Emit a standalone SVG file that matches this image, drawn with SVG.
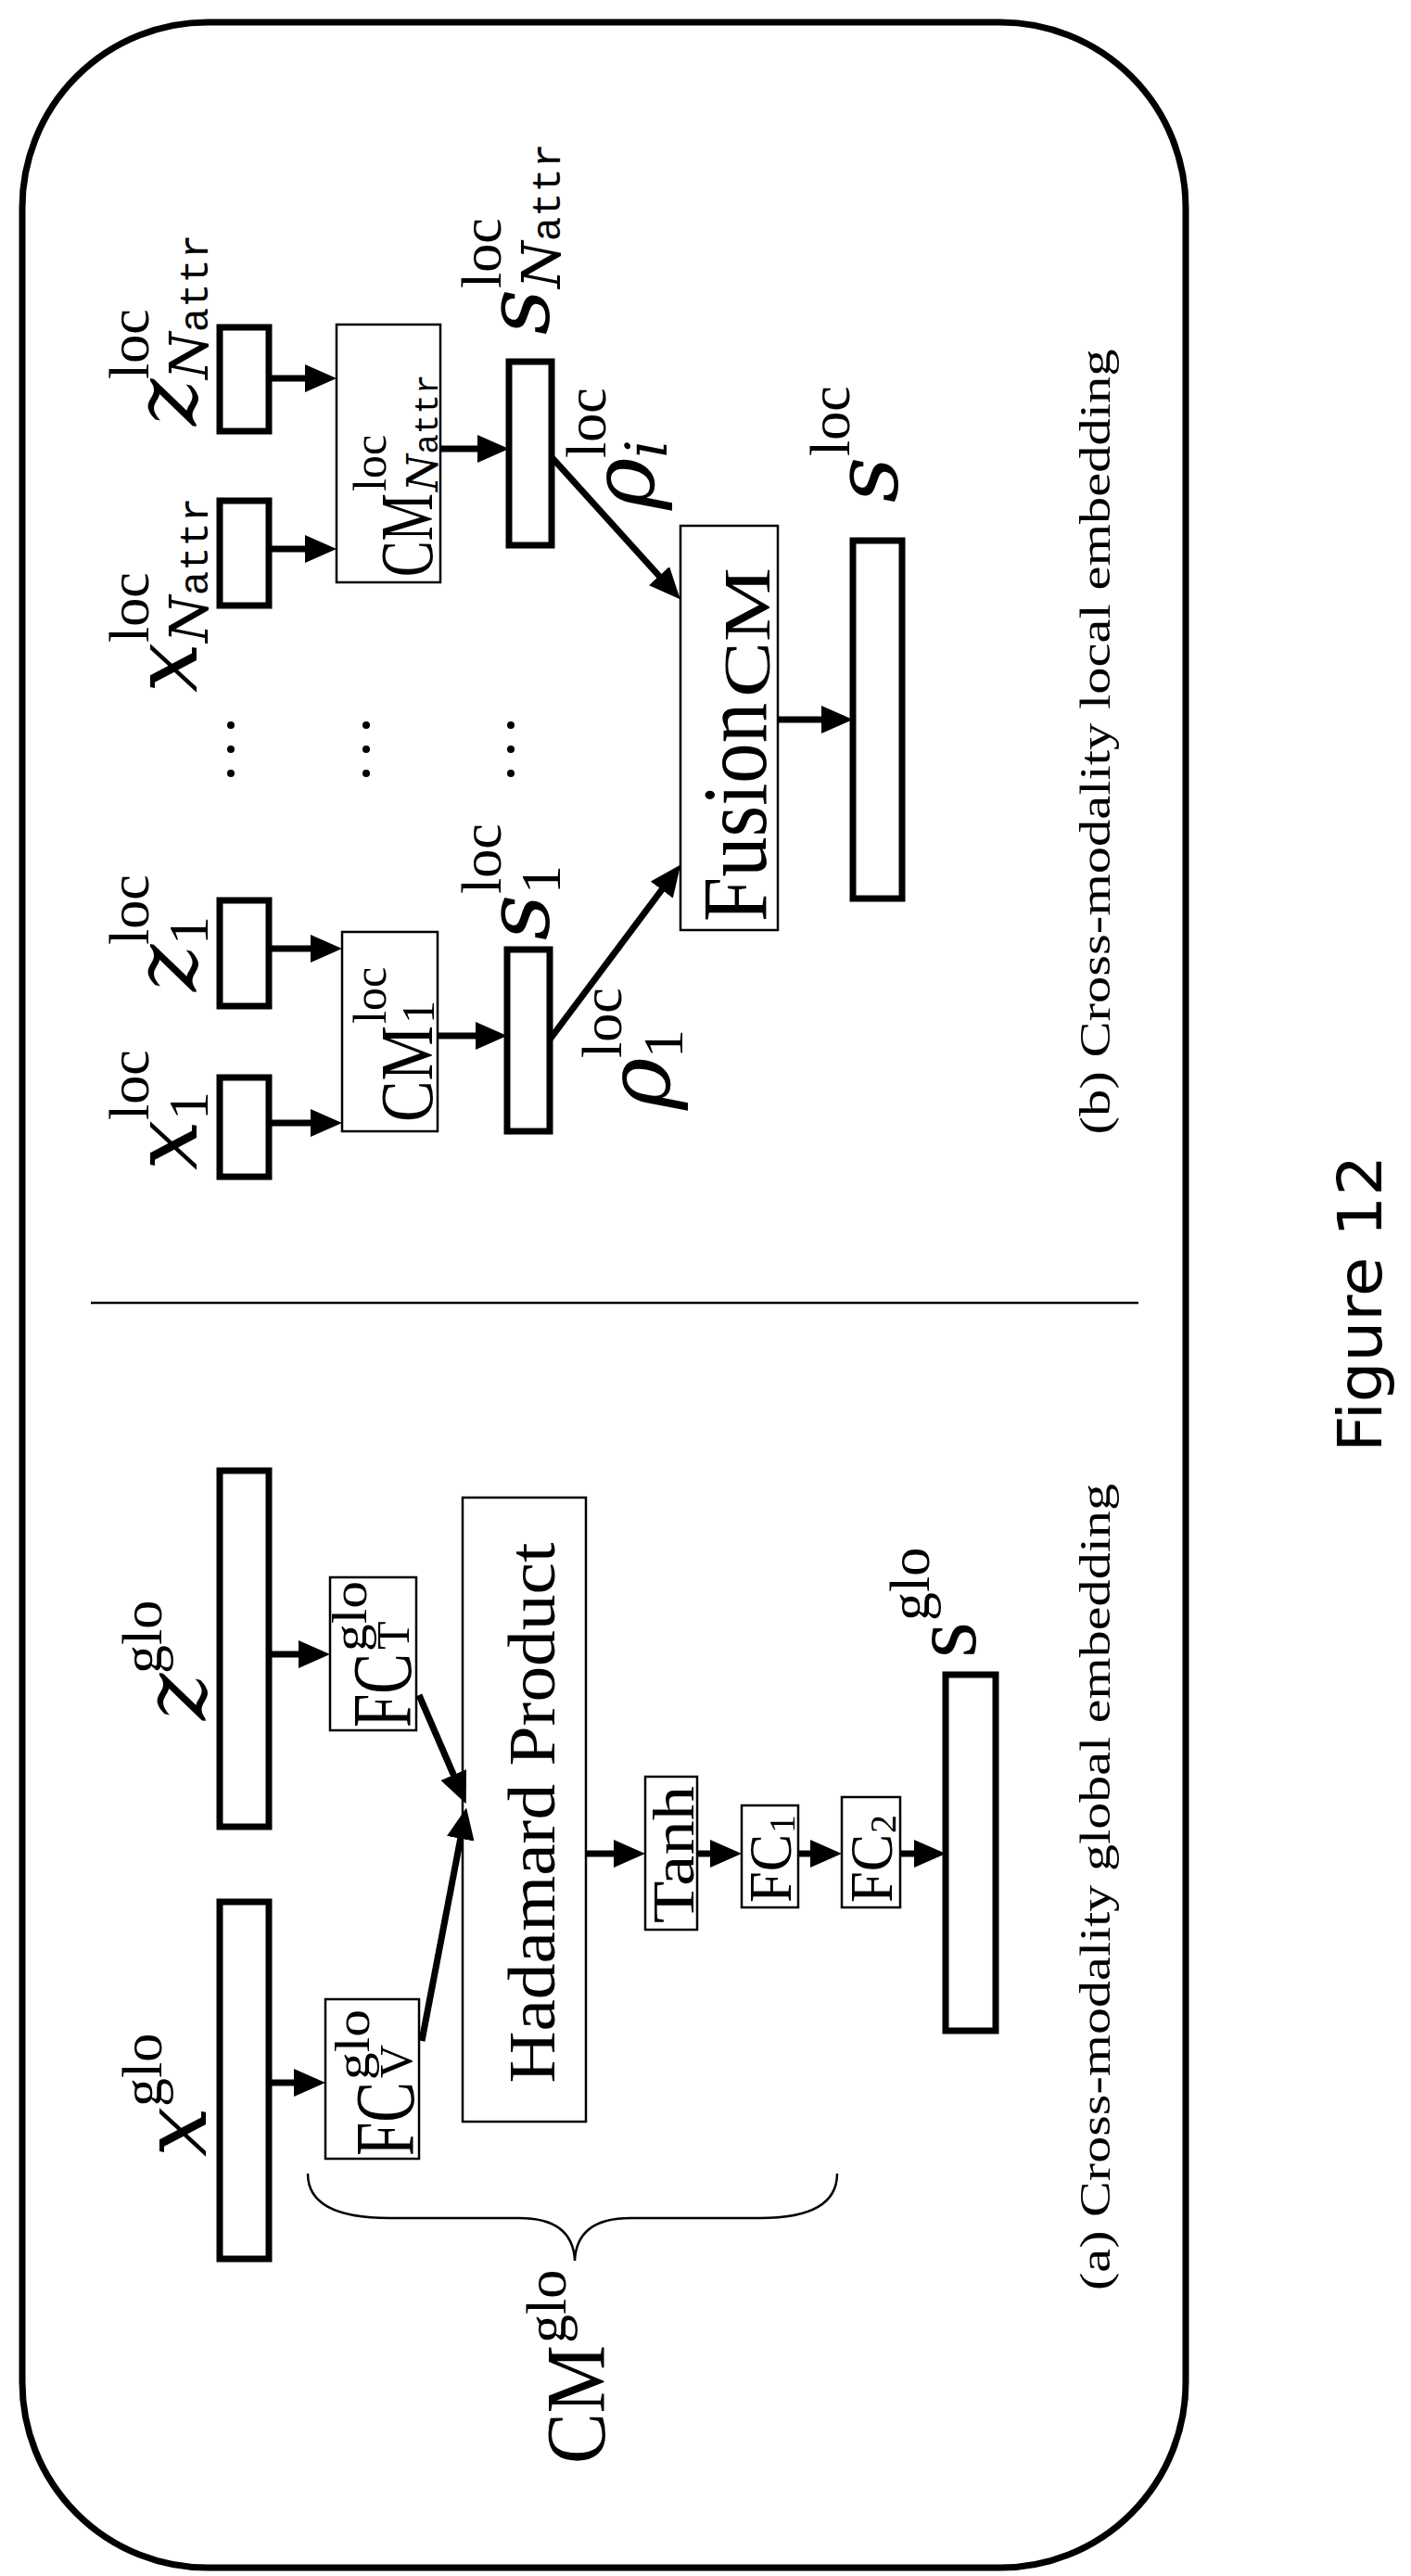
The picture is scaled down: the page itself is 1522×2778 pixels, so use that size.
<svg xmlns="http://www.w3.org/2000/svg" width="1522" height="2778" viewBox="0 0 1522 2778">
<style>
.bar{fill:#fff;stroke:#000;stroke-width:7}
.box{fill:#fff;stroke:#000;stroke-width:2.5}
.ar{stroke:#000;stroke-width:7;fill:none;marker-end:url(#ah)}
text{font-family:"Liberation Serif",serif;fill:#000}
.mi{font-family:"DejaVu Serif","Liberation Serif",serif;font-style:italic}
.tt{font-family:"Liberation Mono",monospace}
.big{font-size:96px}
.sup{font-size:62px}
.cap{font-size:46px}
</style>
<defs>
<marker id="ah" markerWidth="34" markerHeight="30" refX="12" refY="15" orient="auto" markerUnits="userSpaceOnUse"><path d="M0,0 L34,15 L0,30 z" fill="#000"/></marker>
</defs>
<rect x="24" y="24" width="1255" height="2745" rx="200" ry="200" fill="none" stroke="#000" stroke-width="7"/>
<line x1="98" y1="1405" x2="1228" y2="1405" stroke="#000" stroke-width="2.5"/>
<text transform="translate(1490,1406) rotate(-90)" text-anchor="middle" style="font-family:'DejaVu Sans',sans-serif" font-size="66" textLength="320" lengthAdjust="spacingAndGlyphs">Figure 12</text>

<g id="bars-b">
<rect class="bar" x="237" y="1162" width="53" height="107"/>
<rect class="bar" x="237" y="971" width="53" height="114"/>
<rect class="bar" x="237" y="540" width="53" height="113"/>
<rect class="bar" x="237" y="353" width="53" height="112"/>
<rect class="bar" x="547" y="1024" width="46" height="196"/>
<rect class="bar" x="549" y="390" width="46" height="198"/>
<rect class="bar" x="920" y="583" width="53" height="386"/>
</g>
<g id="cm1"><rect class="box" x="369" y="1005" width="103" height="215"/>
<g transform="translate(466,1210) rotate(-90)"><text font-size="80" textLength="104" lengthAdjust="spacingAndGlyphs">CM</text><text x="106" y="-50" font-size="50">loc</text><text x="106" y="2" font-size="50">1</text></g></g>
<g id="cmN"><rect class="box" x="363" y="350" width="112" height="278"/>
<g transform="translate(466,622) rotate(-90)"><text font-size="80" textLength="90" lengthAdjust="spacingAndGlyphs">CM</text><text x="92" y="-50" font-size="50">loc</text><text x="92" y="6"><tspan class="mi" font-size="46">N</tspan><tspan class="tt" font-size="36">attr</tspan></text></g></g>
<g id="fusion"><rect class="box" x="734" y="567" width="105" height="436"/>
<g transform="translate(826,994) rotate(-90)"><text font-size="100" textLength="236" lengthAdjust="spacingAndGlyphs">Fusion</text><text x="242" y="4" font-size="72" textLength="140" lengthAdjust="spacingAndGlyphs">CM</text></g></g>
<g id="dots" fill="#000">
<circle cx="249" cy="782" r="4"/><circle cx="249" cy="808" r="4"/><circle cx="249" cy="834" r="4"/>
<circle cx="395" cy="782" r="4"/><circle cx="395" cy="808" r="4"/><circle cx="395" cy="834" r="4"/>
<circle cx="551" cy="782" r="4"/><circle cx="551" cy="808" r="4"/><circle cx="551" cy="834" r="4"/>
</g>
<g id="labels-b">
<g transform="translate(212,1262) rotate(-90)"><text class="big mi">x</text><text class="sup" x="54" y="-52">loc</text><text class="sup" x="54" y="12">1</text></g>
<g transform="translate(212,1069) rotate(-90)"><text class="big mi">z</text><text class="sup" x="50" y="-52">loc</text><text class="sup" x="50" y="12">1</text></g>
<g transform="translate(212,747) rotate(-90)"><text class="big mi">x</text><text class="sup" x="54" y="-52">loc</text><text x="54" y="12"><tspan class="mi" font-size="58">N</tspan><tspan class="tt" font-size="44">attr</tspan></text></g>
<g transform="translate(212,459) rotate(-90)"><text class="big mi">z</text><text class="sup" x="50" y="-52">loc</text><text x="50" y="12"><tspan class="mi" font-size="58">N</tspan><tspan class="tt" font-size="44">attr</tspan></text></g>
<g transform="translate(592,1014) rotate(-90)"><text class="big mi">s</text><text class="sup" x="50" y="-52">loc</text><text class="sup" x="50" y="12">1</text></g>
<g transform="translate(592,361) rotate(-90)"><text class="big mi">s</text><text class="sup" x="50" y="-52">loc</text><text x="50" y="12"><tspan class="mi" font-size="58">N</tspan><tspan class="tt" font-size="44">attr</tspan></text></g>
<g transform="translate(722,1197) rotate(-90)"><text class="big mi">ρ</text><text class="sup" x="56" y="-52">loc</text><text class="sup" x="56" y="14">1</text></g>
<g transform="translate(705,550) rotate(-90)"><text class="big mi">ρ</text><text class="sup" x="56" y="-52">loc</text><text class="sup mi" x="56" y="14">i</text></g>
<g transform="translate(968,542) rotate(-90)"><text class="big mi">s</text><text class="sup" x="50" y="-52">loc</text></g>
</g>
<text class="cap" transform="translate(1197,800) rotate(-90)" text-anchor="middle" textLength="847" lengthAdjust="spacingAndGlyphs">(b) Cross-modality local embedding</text>

<g id="bars-a">
<rect class="bar" x="237" y="1586" width="53" height="384"/>
<rect class="bar" x="237" y="2051" width="53" height="385"/>
<rect class="bar" x="1020" y="1806" width="54" height="384"/>
</g>
<g id="fct"><rect class="box" x="356" y="1701" width="93" height="165"/>
<g transform="translate(443,1863) rotate(-90)"><text font-size="92" textLength="80" lengthAdjust="spacingAndGlyphs">FC</text><text x="82" y="-48" font-size="52" textLength="76" lengthAdjust="spacingAndGlyphs">glo</text><text x="84" y="-2" font-size="50">T</text></g></g>
<g id="fcv"><rect class="box" x="351" y="2156" width="101" height="172"/>
<g transform="translate(446,2325) rotate(-90)"><text font-size="92" textLength="80" lengthAdjust="spacingAndGlyphs">FC</text><text x="82" y="-48" font-size="52" textLength="76" lengthAdjust="spacingAndGlyphs">glo</text><text x="84" y="-2" font-size="50">V</text></g></g>
<g id="hadamard"><rect class="box" x="499" y="1615" width="133" height="673"/>
<text font-size="72" transform="translate(598,1955) rotate(-90)" text-anchor="middle" textLength="583" lengthAdjust="spacingAndGlyphs">Hadamard Product</text></g>
<g id="tanh"><rect class="box" x="696" y="1916" width="56" height="165"/>
<text font-size="64" transform="translate(748,2074) rotate(-90)" textLength="148" lengthAdjust="spacingAndGlyphs">Tanh</text></g>
<g id="fc1"><rect class="box" x="800" y="1947" width="61" height="110"/>
<g transform="translate(853,2052) rotate(-90)"><text font-size="66" textLength="74" lengthAdjust="spacingAndGlyphs">FC</text><text x="75" y="4" font-size="40">1</text></g></g>
<g id="fc2"><rect class="box" x="908" y="1938" width="63" height="119"/>
<g transform="translate(962,2052) rotate(-90)"><text font-size="66" textLength="74" lengthAdjust="spacingAndGlyphs">FC</text><text x="75" y="4" font-size="40">2</text></g></g>
<g id="labels-a">
<g transform="translate(222,2326) rotate(-90)"><text class="big mi">x</text><text class="sup" x="54" y="-48">glo</text></g>
<g transform="translate(222,1855) rotate(-90)"><text class="big mi">z</text><text class="sup" x="50" y="-48">glo</text></g>
<g transform="translate(1052,1788) rotate(-90)"><text font-size="100">s</text><text class="sup" x="40" y="-50">glo</text></g>
<g transform="translate(652,2657) rotate(-90)"><text font-size="90" textLength="128" lengthAdjust="spacingAndGlyphs">CM</text><text class="sup" x="130" y="-42">glo</text></g>
</g>
<path id="brace" d="M332,2344 Q332,2392 420,2392 L560,2392 Q618,2392 620,2438 Q622,2392 680,2392 L820,2392 Q903,2392 903,2344" fill="none" stroke="#000" stroke-width="2.5"/>
<text class="cap" transform="translate(1197,2035) rotate(-90)" text-anchor="middle" textLength="870" lengthAdjust="spacingAndGlyphs">(a) Cross-modality global embedding</text>

<g id="connectors">
<line class="ar" x1="290" y1="1211" x2="347" y2="1211"/>
<line class="ar" x1="290" y1="1023" x2="347" y2="1023"/>
<line class="ar" x1="290" y1="592" x2="341" y2="592"/>
<line class="ar" x1="290" y1="408" x2="341" y2="408"/>
<line class="ar" x1="472" y1="1117" x2="525" y2="1117"/>
<line class="ar" x1="475" y1="484" x2="527" y2="484"/>
<line class="ar" x1="593" y1="1121" x2="721" y2="950"/>
<line class="ar" x1="595" y1="493" x2="719" y2="630"/>
<line class="ar" x1="839" y1="776" x2="898" y2="776"/>
<line class="ar" x1="290" y1="1784" x2="334" y2="1784"/>
<line class="ar" x1="290" y1="2246" x2="329" y2="2246"/>
<line class="ar" x1="452" y1="1828" x2="494" y2="1925"/>
<line class="ar" x1="455" y1="2201" x2="499" y2="1971"/>
<line class="ar" x1="632" y1="1999" x2="674" y2="1999"/>
<line class="ar" x1="752" y1="1999" x2="778" y2="1999"/>
<line class="ar" x1="861" y1="1999" x2="886" y2="1999"/>
<line class="ar" x1="971" y1="1999" x2="998" y2="1999"/>
</g>
</svg>
